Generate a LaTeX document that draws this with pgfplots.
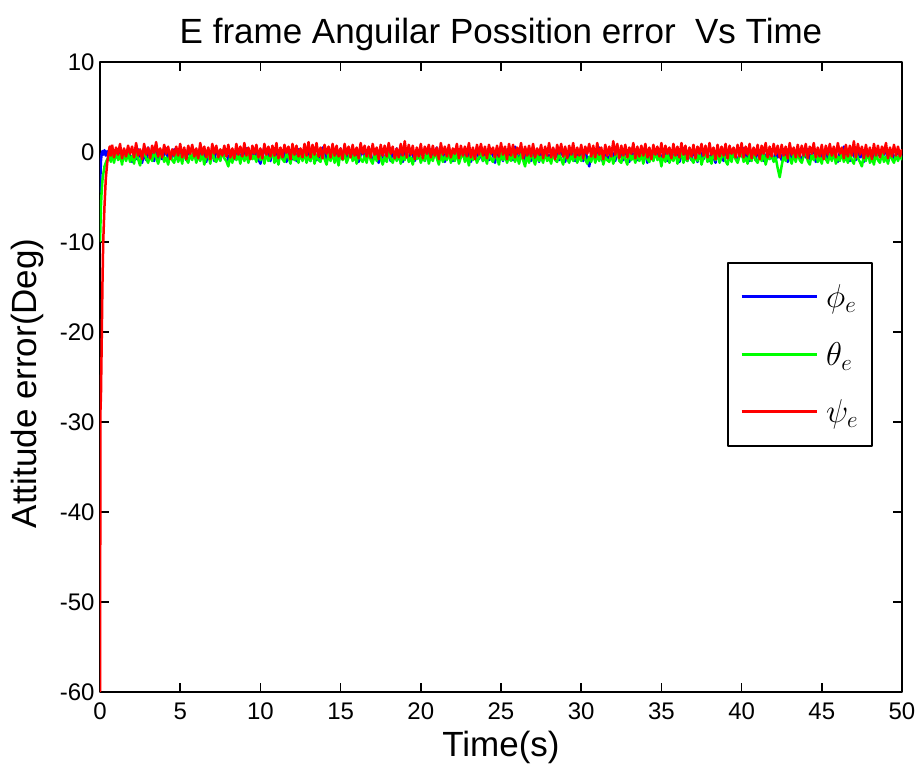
\RequirePackage{fix-cm}
\documentclass[border=0pt]{standalone}
\usepackage{pgfplots}
\pgfplotsset{compat=1.18}
\usepackage{pgfplotstable}
\usepackage{fontspec}
\setmainfont{Liberation Sans}

\pgfplotstableread{
t phi theta psi
0 -4.5 -10 -60
0.03 -2.5 -8 -28.7
0.06 -1.0 -6 -27
0.10 -0.2 -4.5 -22
0.15 0.1 -3.2 -15
0.20 -0.3 -2.5 -10
0.28 0.2 -1.6 -6
0.36 -0.4 -1.2 -3
0.45 0.1 -0.8 -1.2
0.52 -0.6 -0.9 -0.3
0.60 0.2 -0.5 0.6
0.68 -0.7 -1.1 -0.4
0.75 0.3 -0.2 0.8
}\transient

% steady part: samples every 0.125 s from t = 0.75 s to t = 50 s
\pgfplotstableread{
phi theta psi
0.3 -0.2 0.8
-0.9 -1.2 -0.6
0.1 0.1 0.5
-0.6 -0.9 -0.3
0.4 -0.3 0.9
-1.0 -1.4 -0.7
-0.2 0.0 0.4
-0.7 -1.0 -0.5
0.2 -0.1 0.7
-0.5 -1.1 -0.2
-1.1 -0.4 0.6
0.0 -1.3 -0.6
-0.8 0.2 1.0
0.3 -0.8 -0.4
-0.4 -1.5 0.3
-1.2 -0.2 -0.8
-0.1 0.1 0.9
-0.9 -0.7 -0.3
0.5 -1.2 0.5
-0.6 -0.3 -0.7
-0.2 -1.0 0.7
-1.0 0.0 -0.1
0.2 -0.6 1.1
-0.7 -1.3 -0.5
0.1 -0.5 0.4
-0.8 0.2 -0.6
-0.3 -1.1 0.8
0.4 -0.6 -0.2
-1.1 -1.4 0.6
-0.2 -0.1 -0.8
-0.6 -0.9 0.3
0.3 -1.2 -0.4
-0.2 0.0 0.6
-1.0 -1.1 -0.4
0.3 -0.3 0.9
-0.5 -1.3 -0.6
0.0 0.1 0.5
-0.9 -0.8 -0.8
0.4 -1.2 0.7
-0.4 -0.2 -0.2
-0.7 -0.9 0.8
0.1 0.2 -0.5
-1.0 -1.2 0.4
-0.3 -0.4 -0.7
0.4 -1.0 1.0
-0.8 0.0 -0.3
-0.1 -1.4 0.6
-1.1 -0.5 -0.6
0.2 -0.2 0.5
-0.6 -1.3 -0.8
-0.1 0.1 0.9
-1.0 -0.8 -0.2
0.5 -1.1 0.7
-0.4 -0.3 -0.6
-0.9 -1.0 0.3
0.1 0.2 -0.4
-0.5 -0.7 0.7
0.2 -1.0 -0.5
-1.0 -1.6 0.8
-0.2 -0.4 -0.6
0.3 -1.2 0.4
-0.8 0.1 -0.7
-0.4 -0.9 0.9
0.1 -0.3 -0.3
-0.9 -1.3 0.6
0.0 0.0 -0.5
-0.6 -1.0 1.0
0.4 -0.2 -0.4
-1.1 -1.2 0.5
-0.3 0.1 -0.8
0.2 -0.8 0.7
-0.7 -0.4 -0.2
0.1 -1.1 0.8
-0.8 0.1 -0.6
-1.3 -0.9 0.4
-0.2 -0.3 -0.7
0.5 -1.3 0.9
-0.6 -0.1 -0.3
-0.1 -1.0 0.6
-1.0 -0.6 -0.5
0.3 0.2 0.7
-0.5 -1.2 -0.4
-0.1 -0.5 1.0
-0.9 -1.4 -0.7
0.4 0.0 0.5
-0.7 -0.8 -0.6
0.0 -1.1 0.8
-1.1 -0.2 -0.1
-0.3 -0.6 0.6
0.2 -1.3 -0.8
-0.8 0.1 0.9
0.0 -0.9 -0.3
-1.0 -0.4 0.7
0.3 -1.2 -0.5
-0.5 0.0 0.4
-0.9 -1.0 -0.6
0.4 -0.1 0.9
-0.6 -1.2 -0.4
0.0 -0.5 1.1
-1.0 -1.0 -0.6
0.2 0.2 0.8
-0.4 -1.3 -0.3
-0.9 -0.3 1.0
0.1 -0.9 -0.5
-0.7 -1.1 0.5
0.5 0.1 -0.7
-0.2 -0.8 0.8
-1.1 -1.4 -0.2
0.1 -0.2 0.6
-0.5 -1.0 -0.6
0.3 0.0 0.9
-0.8 -1.2 -0.4
-0.1 -0.4 0.7
-1.0 -1.5 -0.5
0.4 0.1 0.4
-0.6 -0.9 -0.8
-0.2 -0.2 0.9
-0.9 -1.2 -0.3
0.2 -0.6 0.6
-0.4 0.1 -0.6
0.0 -1.0 0.8
-0.8 -0.3 -0.4
0.3 -1.3 0.5
-1.1 0.0 -0.7
-0.3 -0.8 1.0
0.2 -1.1 -0.2
-0.7 -0.4 0.7
-0.2 -1.2 -0.5
0.5 0.1 0.6
-0.6 -0.9 -0.6
-1.0 -1.3 0.9
0.1 -0.2 -0.3
-0.4 -1.0 0.5
-1.2 0.0 -0.8
0.2 -0.7 0.8
-0.5 -1.4 -0.4
-0.9 -0.5 0.7
0.3 -1.1 -0.5
-0.3 0.2 1.0
-1.0 -0.8 -0.2
0.1 -1.2 0.6
-0.6 -0.3 -0.7
0.4 -1.0 0.4
-0.8 0.0 -0.6
-0.2 -1.3 0.9
-1.1 -0.4 -0.4
0.2 -0.9 1.2
-0.5 0.1 -0.6
-0.9 -1.1 0.8
0.3 -0.6 -0.3
-0.4 -1.4 0.7
-1.0 -0.2 -0.8
0.1 -0.8 0.5
-0.7 0.0 -0.5
0.4 -1.2 0.9
-0.3 -0.5 -0.7
-1.0 -1.0 0.6
0.0 0.2 -0.2
-0.6 -1.3 0.8
0.3 -0.4 -0.6
-0.8 -1.0 0.7
-0.1 0.1 -0.4
0.5 -0.7 0.5
-0.9 -1.4 -0.8
-0.3 -0.2 1.0
0.2 -1.1 -0.3
-1.1 -0.5 0.6
-0.4 -0.9 -0.5
0.3 0.0 0.8
-0.6 -1.2 -0.6
-1.0 -0.3 0.4
0.1 -1.0 -0.2
-0.5 0.1 0.9
-0.9 -1.3 -0.7
0.4 -0.6 0.7
-0.2 -0.1 -0.4
-0.7 -1.1 0.6
0.2 -0.4 -0.5
-0.4 -1.5 1.0
-1.1 0.0 -0.6
0.0 -0.9 0.5
-0.6 -0.3 -0.8
0.5 -1.2 0.8
-0.8 -0.6 -0.3
-0.1 0.1 0.9
-1.0 -1.0 -0.4
0.3 -0.5 0.6
-0.5 -1.3 -0.7
-0.9 0.0 0.8
0.1 -0.8 -0.2
-0.3 -1.1 0.5
-1.2 -0.2 -0.6
0.2 -0.7 0.7
-0.6 -1.4 -0.5
-0.2 0.1 1.0
-1.0 -0.9 -0.3
0.4 -0.3 0.6
-0.4 -1.2 -0.8
-0.8 -0.5 0.9
0.0 -1.0 -0.4
-0.9 0.0 0.8
0.6 -1.1 -0.6
-0.3 -0.4 0.5
-1.1 -1.3 -0.2
0.2 -0.2 1.0
-0.5 -0.9 -0.7
-1.0 -1.6 0.6
0.1 -0.3 -0.4
-0.4 -1.2 0.7
-1.0 0.1 -0.5
0.3 -0.8 0.9
-0.7 -1.4 -0.6
-0.1 -0.1 0.4
-1.1 -1.0 -0.3
0.2 -0.5 0.8
-0.5 -1.2 -0.7
0.1 0.1 0.6
-0.8 -1.0 -0.4
-0.3 -0.6 1.0
-1.0 -1.3 -0.6
0.4 0.0 0.5
-0.6 -0.9 -0.8
-0.2 -1.1 0.8
-0.9 -0.2 -0.2
0.3 -0.8 0.9
-0.4 -1.4 -0.5
-1.1 0.0 0.6
0.0 -0.7 -0.7
-0.7 -1.2 0.7
0.2 -0.3 -0.3
-0.5 -1.0 1.0
-1.0 0.1 -0.6
0.2 -1.2 0.5
-0.6 -0.4 -0.4
-0.1 -1.0 0.8
-1.0 0.0 -0.7
0.3 -0.8 0.6
-0.8 -1.3 -0.2
-1.6 -0.5 0.9
-0.3 -1.1 -0.5
0.1 0.0 0.7
-0.9 -1.2 -0.6
-0.4 -0.3 1.0
0.5 -1.0 -0.3
-0.7 0.1 0.5
-1.1 -1.4 -0.8
0.0 -0.6 0.8
-0.5 -0.9 -0.4
-0.8 -1.1 0.6
0.2 -0.2 -0.5
-0.3 -1.3 1.2
-1.0 -0.5 -0.3
0.6 0.0 0.9
-0.6 -1.0 -0.7
-0.1 -1.2 0.7
-0.9 -0.1 -0.4
0.3 -0.8 0.8
-0.4 -1.4 -0.6
-1.1 0.1 0.5
0.0 -0.9 -0.2
-0.6 -0.4 1.0
0.2 -1.2 -0.7
-0.9 0.0 0.6
-0.2 -1.0 -0.5
0.4 -0.3 0.7
-0.7 -1.3 -0.4
-0.1 0.0 0.9
-1.2 -0.8 -0.6
0.1 -1.1 0.5
-0.5 -0.2 -0.8
-0.9 -1.0 0.8
0.3 0.1 -0.3
-0.6 -0.9 0.6
0.1 -0.4 -0.5
-0.9 -1.6 1.0
-0.2 -0.2 -0.6
0.5 -1.1 0.7
-1.0 0.0 -0.2
-0.4 -1.2 0.5
0.2 -0.5 -0.7
-0.8 -1.0 0.9
-0.1 0.1 -0.4
0.3 -1.3 0.6
-1.1 -0.6 -0.6
-0.3 -0.1 1.0
0.4 -1.2 -0.3
-0.7 -0.4 0.7
-1.0 -1.0 -0.8
0.0 0.1 0.5
-0.9 -0.8 -0.5
0.2 -1.2 0.8
-0.5 -0.3 -0.7
-1.1 -1.0 0.6
0.3 0.0 -0.2
-0.4 -1.4 0.9
-0.8 -0.6 -0.4
0.4 -0.1 0.7
-0.3 -1.1 -0.6
-1.0 -0.5 1.0
0.1 -1.3 -0.3
-0.6 0.1 0.5
-1.2 -0.9 -0.8
0.2 -0.2 0.8
-0.5 -1.2 -0.5
-0.2 -0.6 0.6
-1.0 0.0 -0.4
0.5 -1.0 0.9
-0.7 -1.4 -0.7
-0.1 -0.3 0.7
-0.9 -1.1 -0.2
0.3 0.1 0.5
-0.6 -0.8 -0.6
-1.1 -1.2 0.8
0.0 -0.4 -0.5
-0.5 0.0 1.0
0.4 -1.1 -0.6
-0.8 -0.6 0.6
-0.2 -1.3 -0.3
-1.0 -0.2 0.9
0.1 -1.0 -0.7
-0.4 0.1 0.5
-0.9 -0.9 -0.4
0.2 -1.2 0.8
-0.6 -0.3 -0.8
0.5 -1.0 0.7
-1.0 0.0 -0.2
-0.3 -1.4 1.0
-0.7 -0.5 -0.6
0.2 -0.8 0.6
-0.5 -0.2 -0.5
-1.0 -1.1 0.9
0.1 -0.6 -0.3
-0.6 -1.8 0.7
-0.2 -2.8 -0.6
-0.9 -1.5 0.8
0.3 -0.4 -0.4
-0.3 -1.0 0.6
-1.1 0.0 -0.7
0.2 -0.7 1.0
-0.7 -1.3 -0.3
-0.1 -0.2 0.5
-0.9 -1.1 -0.6
0.4 0.1 0.8
-0.5 -0.9 -0.5
-1.0 -1.2 0.7
0.0 -0.4 -0.4
-0.6 0.0 0.9
0.3 -1.0 -0.7
-0.8 -1.4 0.6
-0.2 -0.3 -0.2
0.5 -0.9 1.0
-1.1 0.1 -0.6
-0.4 -1.1 0.5
0.1 -0.6 -0.5
-0.9 -1.3 0.8
-0.3 0.0 -0.8
0.4 -0.8 0.7
-1.0 -1.2 -0.3
-0.1 -0.2 0.9
-0.7 -1.0 -0.4
0.3 0.1 0.6
-0.6 -1.3 -0.6
-1.1 -0.5 1.0
0.0 -1.0 -0.2
-0.5 0.0 0.5
0.6 -1.1 -0.7
-0.8 -0.4 0.8
-0.2 -1.2 -0.5
-1.0 -0.2 0.7
0.2 -0.9 -0.4
-0.4 -1.3 1.2
-0.9 0.0 -0.6
0.1 -0.7 0.9
-0.6 -1.1 -0.3
-0.2 -1.6 0.6
-1.1 -0.3 -0.7
0.4 -1.0 0.8
-0.5 0.1 -0.5
-0.1 -1.2 0.5
-1.0 -0.6 -0.8
0.2 -1.4 0.9
-0.7 -0.1 -0.4
-0.3 -0.9 0.7
0.1 -1.2 -0.6
-0.8 0.0 0.6
-0.2 -1.1 -0.2
0.3 -0.5 1.0
-1.1 -1.3 -0.7
-0.4 0.1 0.5
0.2 -0.8 -0.5
-0.9 -1.2 0.8
-0.3 -0.3 -0.4
0.1 -1.0 0.6
-0.7 -0.2 -0.5
-0.3 -0.9 0.3
}\steady

\begin{document}
\begin{tikzpicture}
\useasboundingbox (-100pt,-80pt) rectangle (818pt,692pt);
\begin{axis}[
  at={(0pt,0pt)}, anchor=south west,
  scale only axis, width=802pt, height=630pt,
  xmin=0, xmax=50, ymin=-60, ymax=10,
  xtick={0,5,...,50},
  ytick={-60,-50,...,10},
  yticklabels={-60,-50,-40,-30,-20,-10,0,10},
  xticklabels={0,5,10,15,20,25,30,35,40,45,50},
  tick align=inside,
  major tick length=9pt,
  axis line style={line width=1.5pt, black},
  every tick/.style={line width=1.5pt, black},
  ticklabel style={font=\fontsize{24}{28}\selectfont, black},
  xticklabel style={yshift=-7pt},
  yticklabel style={xshift=-2pt},
  /pgf/number format/assume math mode=true,
  xlabel={Time(s)},
  ylabel={Attitude error(Deg)},
  label style={font=\fontsize{35}{40}\selectfont},
  xlabel style={at={(axis description cs:0.5,-0.103)}, anchor=base},
  ylabel style={at={(axis description cs:-0.091,0.49)}, anchor=center},
  title={E frame Anguilar Possition error\ \ Vs Time},
  title style={font=\fontsize{35}{40}\selectfont, at={(axis description cs:0.5,1)}, anchor=base, yshift=13pt},
  legend style={at={(rel axis cs:0.9638,0.6825)}, anchor=north east,
    draw=black, line width=1.5pt, font=\fontsize{33}{37}\selectfont,
    row sep=29pt, inner xsep=12pt, inner ysep=20pt, legend cell align=left},
  legend image code/.code={\draw[#1, line width=3pt] (0pt,0pt) -- (75pt,0pt);},
  line join=round,
]
\addplot[blue, line width=2.5pt, forget plot] table[x=t, y=phi] {\transient};
\addplot[blue, line width=2.5pt] table[x expr=0.75+0.125*\coordindex, y=phi] {\steady};
\addplot[green, line width=2.5pt, forget plot] table[x=t, y=theta] {\transient};
\addplot[green, line width=2.5pt] table[x expr=0.75+0.125*\coordindex, y=theta] {\steady};
\addplot[red, line width=2.5pt, forget plot] table[x=t, y=psi] {\transient};
\addplot[red, line width=2.5pt] table[x expr=0.75+0.125*\coordindex, y=psi] {\steady};
\legend{\hspace{6pt}$\phi_e$, \hspace{6pt}$\theta_e$, \hspace{6pt}$\psi_e$}
\end{axis}
\end{tikzpicture}
\end{document}
